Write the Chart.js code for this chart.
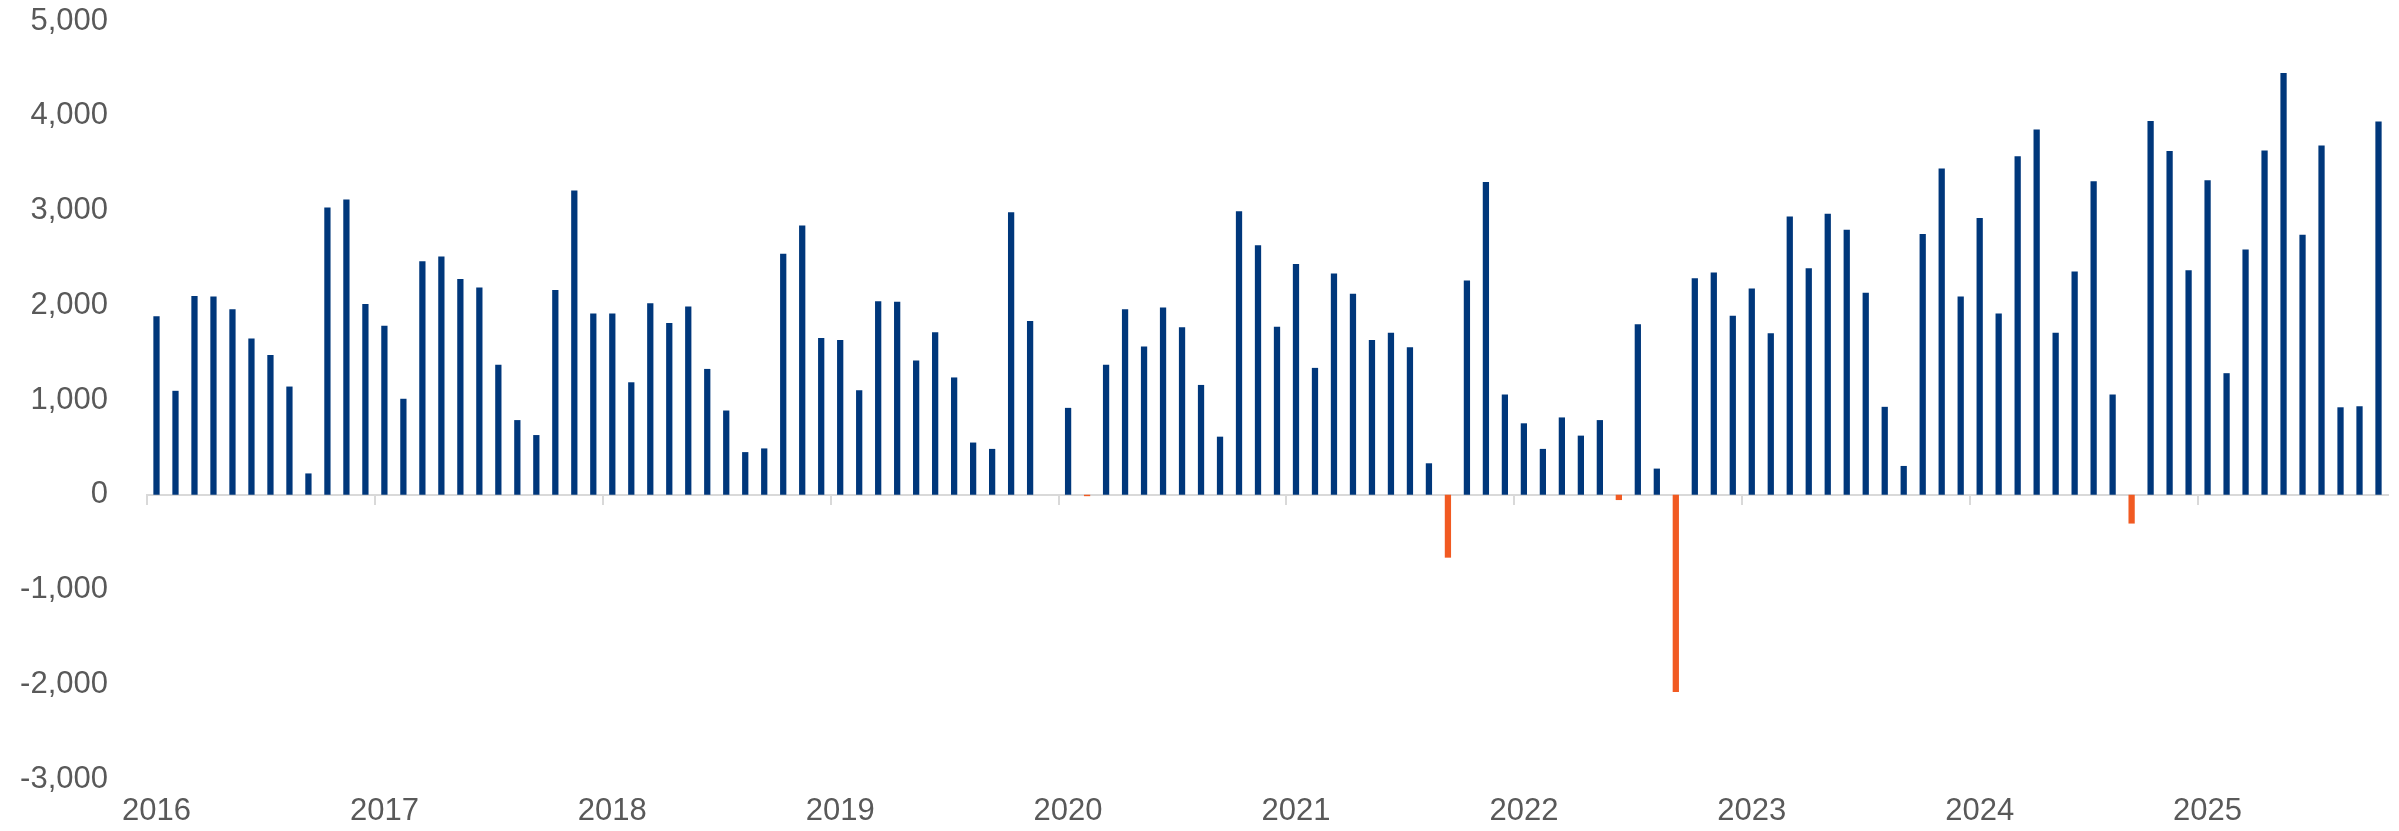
<!DOCTYPE html>
<html>
<head>
<meta charset="utf-8">
<script src="https://cdn.jsdelivr.net/npm/chart.js@4/dist/chart.umd.min.js"></script>
<style>
  html, body { margin: 0; padding: 0; background: #ffffff; }
  #wrap { width: 2399px; height: 831px; position: relative; }
</style>
</head>
<body>
<div id="wrap"><canvas id="c"></canvas></div>
<script>
// Tick labels (years) and monthly values, Jan 2016 - Oct 2025
const years = ['2016', '2017', '2018', '2019', '2020', '2021', '2022', '2023', '2024', '2025'];
const values2016 = [1885, 1097, 2098, 2093, 1958, 1648, 1474, 1142, 225, 3032, 3117, 2014];
const values2017 = [1783, 1013, 2464, 2515, 2278, 2188, 1373, 788, 630, 2160, 3212, 1913];
const values2018 = [1913, 1187, 2020, 1812, 1986, 1328, 889, 450, 489, 2543, 2841, 1654];
const values2019 = [1632, 1103, 2042, 2037, 1418, 1716, 1238, 551, 484, 2982, 1834, 0];
const values2020 = [917, -15, 1373, 1958, 1564, 1975, 1767, 1159, 613, 2993, 2633, 1772];
const values2021 = [2436, 1339, 2335, 2121, 1632, 1710, 1558, 332, -664, 2262, 3302, 1058];
const values2022 = [754, 484, 816, 624, 788, -56, 1800, 276, -2082, 2284, 2346, 1890];
const values2023 = [2177, 1705, 2937, 2391, 2965, 2796, 2132, 928, 304, 2751, 3443, 2093];
const values2024 = [2920, 1913, 3572, 3854, 1710, 2357, 3308, 1058, -304, 3944, 3629, 2369];
const values2025 = [3319, 1283, 2588, 3634, 4450, 2745, 3685, 923, 934, 3938];

const yearValues = [values2016, values2017, values2018, values2019, values2020,
                    values2021, values2022, values2023, values2024, values2025];

const categories = [];
const values = [];
yearValues.forEach((arr, yi) => {
  arr.forEach((v, mi) => {
    categories.push(years[yi] + '-' + String(mi + 1).padStart(2, '0'));
    values.push(v);
  });
});

const BLUE = '#00377B';
const ORANGE = '#F15A22';
const AXIS = '#d9d9d9';
const TEXT = '#595959';
const FONT = "'Liberation Sans', Arial, sans-serif";

new Chart(document.getElementById('c'), {
  type: 'bar',
  data: {
    labels: categories,
    datasets: [{
      data: values,
      backgroundColor: values.map(v => v < 0 ? ORANGE : BLUE),
      borderWidth: 0,
      barPercentage: 0.33,
      categoryPercentage: 1.0,
      xAxisID: 'x',
      yAxisID: 'y'
    }]
  },
  options: {
    responsive: true,
    maintainAspectRatio: false,
    animation: false,
    layout: { autoPadding: false, padding: { left: 20, right: 11, top: 21, bottom: 0 } },
    plugins: { legend: { display: false }, tooltip: { enabled: false } },
    scales: {
      x: {
        type: 'category',
        position: 'bottom',
        offset: true,
        grid: { display: false, drawTicks: false },
        border: { display: false },
        ticks: {
          autoSkip: false,
          maxRotation: 0,
          padding: 14,
          color: TEXT,
          font: { family: FONT, size: 31 },
          callback: function (val, i) {
            return i % 12 === 0 ? this.getLabelForValue(val).slice(0, 4) : '';
          }
        },
        afterFit: s => { s.height = 52; s.paddingLeft = 0; s.paddingRight = 0; }
      },
      x2: {
        type: 'category',
        labels: categories,
        position: { y: 0 },
        offset: true,
        grid: {
          offset: true,
          drawOnChartArea: false,
          drawTicks: true,
          tickLength: 9,
          lineWidth: 2,
          color: ctx => (ctx.index % 12 === 0 && ctx.index < categories.length) ? AXIS : 'rgba(0,0,0,0)'
        },
        border: { display: true, color: AXIS, width: 2 },
        ticks: { display: false, autoSkip: false }
      },
      y: {
        min: -3000,
        max: 5000,
        grid: { display: false, drawTicks: false },
        border: { display: false },
        ticks: {
          stepSize: 1000,
          padding: 39,
          color: TEXT,
          font: { family: FONT, size: 31 },
          callback: v => v.toLocaleString('en-US')
        },
        afterFit: s => { s.width = 127; s.paddingTop = 0; s.paddingBottom = 0; }
      }
    }
  }
});
</script>
</body>
</html>
